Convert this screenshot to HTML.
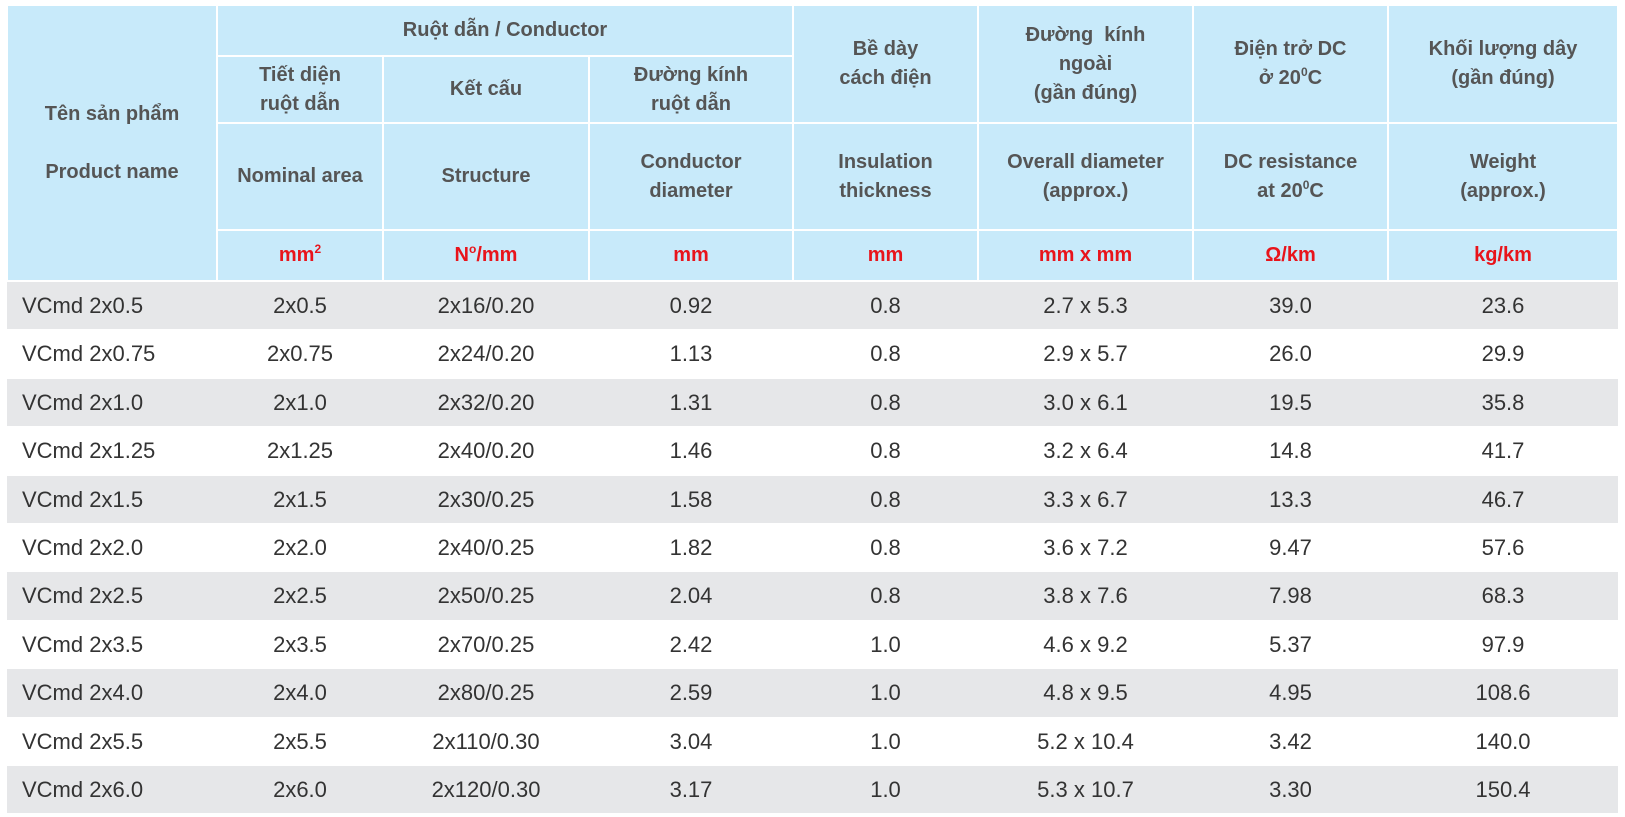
<!DOCTYPE html>
<html><head><meta charset="utf-8"><style>
body{margin:0;width:1625px;height:817px;background:#fff;font-family:"Liberation Sans",sans-serif;position:relative;overflow:hidden}
.c{position:absolute;display:flex;align-items:center;justify-content:center;text-align:center;box-sizing:border-box}
.h{background:#c8eafa;color:#555;font-weight:bold;font-size:20px;line-height:29px}
.u{color:#e8141b}
sup{font-size:12px;line-height:0;vertical-align:8px}
</style></head><body>
<div id="t"></div>
<script>
var X=[7,217,383,589,793,978,1193,1388,1618];
var out="";
function cell(x1,y1,x2,y2,txt,cls){out+='<div class="c '+cls+'" style="left:'+(x1+1)+'px;top:'+(y1+1)+'px;width:'+(x2-x1-2)+'px;height:'+(y2-y1-2)+'px"><div>'+txt+'</div></div>';}
var Y0=5,Y1=56,Y2=123,Y3=230,Y4=281;
cell(X[0],Y0,X[1],Y4,'Tên sản phẩm<br><br>Product name','h');
cell(X[1],Y0,X[4],Y1,'Ruột dẫn / Conductor','h');
cell(X[1],Y1,X[2],Y2,'Tiết diện<br>ruột dẫn','h');
cell(X[2],Y1,X[3],Y2,'Kết cấu','h');
cell(X[3],Y1,X[4],Y2,'Đường kính<br>ruột dẫn','h');
cell(X[4],Y0,X[5],Y2,'Bề dày<br>cách điện','h');
cell(X[5],Y0,X[6],Y2,'Đường&nbsp; kính<br>ngoài<br>(gần đúng)','h');
cell(X[6],Y0,X[7],Y2,'Điện trở DC<br>ở 20<sup>0</sup>C','h');
cell(X[7],Y0,X[8],Y2,'Khối lượng dây<br>(gần đúng)','h');
var en=['Nominal area','Structure','Conductor<br>diameter','Insulation<br>thickness','Overall diameter<br>(approx.)','DC resistance<br>at 20<sup>0</sup>C','Weight<br>(approx.)'];
var un=['mm<sup>2</sup>','N<sup>o</sup>/mm','mm','mm','mm x mm','Ω/km','kg/km'];
for(var i=0;i<7;i++){cell(X[i+1],Y2,X[i+2],Y3,en[i],'h');cell(X[i+1],Y3,X[i+2],Y4,un[i],'h u');}
var rows=[["VCmd 2x0.5","2x0.5","2x16/0.20","0.92","0.8","2.7 x 5.3","39.0","23.6"],
["VCmd 2x0.75","2x0.75","2x24/0.20","1.13","0.8","2.9 x 5.7","26.0","29.9"],
["VCmd 2x1.0","2x1.0","2x32/0.20","1.31","0.8","3.0 x 6.1","19.5","35.8"],
["VCmd 2x1.25","2x1.25","2x40/0.20","1.46","0.8","3.2 x 6.4","14.8","41.7"],
["VCmd 2x1.5","2x1.5","2x30/0.25","1.58","0.8","3.3 x 6.7","13.3","46.7"],
["VCmd 2x2.0","2x2.0","2x40/0.25","1.82","0.8","3.6 x 7.2","9.47","57.6"],
["VCmd 2x2.5","2x2.5","2x50/0.25","2.04","0.8","3.8 x 7.6","7.98","68.3"],
["VCmd 2x3.5","2x3.5","2x70/0.25","2.42","1.0","4.6 x 9.2","5.37","97.9"],
["VCmd 2x4.0","2x4.0","2x80/0.25","2.59","1.0","4.8 x 9.5","4.95","108.6"],
["VCmd 2x5.5","2x5.5","2x110/0.30","3.04","1.0","5.2 x 10.4","3.42","140.0"],
["VCmd 2x6.0","2x6.0","2x120/0.30","3.17","1.0","5.3 x 10.7","3.30","150.4"]];
var rh=48.4;
for(var r=0;r<11;r++){var y=Y4+1+r*rh;
 if(r%2==0) out+='<div style="position:absolute;left:7px;top:'+y+'px;width:1611px;height:'+(rh-1)+'px;background:#e6e7e9"></div>';
 for(var c=0;c<8;c++){
  var st='position:absolute;top:'+y+'px;height:'+(rh-1)+'px;line-height:'+(rh-1)+'px;font-size:22px;color:#333;';
  if(c==0) st+='left:22px;'; else st+='left:'+X[c]+'px;width:'+(X[c+1]-X[c])+'px;text-align:center;';
  out+='<div style="'+st+'">'+rows[r][c]+'</div>';
 }}
document.getElementById('t').innerHTML=out;
</script>
</body></html>
